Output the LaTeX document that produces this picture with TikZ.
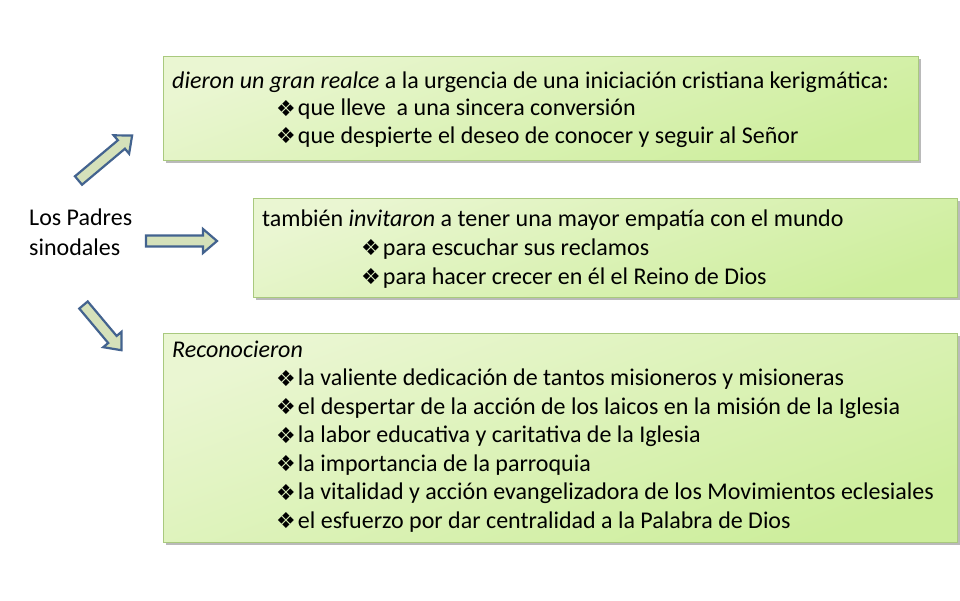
\documentclass[tikz,border=0pt]{standalone}
\usepackage{fontspec}
\setmainfont{Carlito}
\newfontfamily\symfont{DejaVu Sans}
\usetikzlibrary{shadows}
\definecolor{boxborder}{HTML}{A9C97E}
\definecolor{boxtop}{HTML}{EAF6D2}
\definecolor{boxbottom}{HTML}{CDEE9C}
\definecolor{arrowfill}{HTML}{D5E1BA}
\definecolor{arrowdraw}{HTML}{43638F}
\newcommand{\dia}{\raisebox{-0.5pt}{\symfont\fontsize{22}{22}\selectfont ❖}\hspace{2pt}}
\tikzset{
  box/.style={draw=boxborder, line width=0.8pt, top color=boxtop, bottom color=boxbottom,
    shading angle=20, anchor=north west, inner sep=0pt,
    drop shadow={shadow xshift=2.5pt, shadow yshift=-2.5pt, opacity=0.45, fill=black!60}},
  txt/.style={anchor=base west, inner sep=0pt, font=\fontsize{24}{28}\selectfont},
  blockarrow/.pic={
    \path[fill=arrowfill, draw=arrowdraw, line width=2.2pt, line join=miter]
      (0,-5.5) -- (#1-14,-5.5) -- (#1-14,-12) -- (#1,0) -- (#1-14,12) -- (#1-14,5.5) -- (0,5.5) -- cycle;
  }
}
\begin{document}
\begin{tikzpicture}[x=1pt,y=-1pt]
\useasboundingbox[fill=white] (0,0) rectangle (960,600);
% boxes
\node[box, minimum width=755pt, minimum height=104pt] (b1) at (163,56) {};
\node[box, minimum width=704pt, minimum height=99pt] (b2) at (253,198) {};
\node[box, minimum width=794pt, minimum height=209pt] (b3) at (163,333) {};
% left label
\node[txt] (lp1) at (29,225) {Los Padres};
\node[txt] (lp2) at (29,255) {sinodales};
% arrows
\pic[rotate=40] (a1) at (78.5,180.5) {blockarrow=70};
\pic (a2) at (146,241) {blockarrow=71};
\pic[rotate=-50] (a3) at (83.5,305) {blockarrow=59};
% box 1
\node[txt] (t11) at (172,88) {\textit{dieron un gran realce} a la urgencia de una iniciación cristiana kerigmática:};
\node[txt] (t12) at (276,115.5) {\dia que lleve\ \ a una sincera conversión};
\node[txt] (t13) at (276,143) {\dia que despierte el deseo de conocer y seguir al Señor};
% box 2
\node[txt] (t21) at (262,226) {también \textit{invitaron} a tener una mayor empatía con el mundo};
\node[txt] (t22) at (361,255) {\dia para escuchar sus reclamos};
\node[txt] (t23) at (361,284) {\dia para hacer crecer en él el Reino de Dios};
% box 3
\node[txt] (t31) at (172,357) {\textit{Reconocieron}};
\node[txt] (t32) at (276,385.5) {\dia la valiente dedicación de tantos misioneros y misioneras};
\node[txt] (t33) at (276,414) {\dia el despertar de la acción de los laicos en la misión de la Iglesia};
\node[txt] (t34) at (276,442.5) {\dia la labor educativa y caritativa de la Iglesia};
\node[txt] (t35) at (276,471) {\dia la importancia de la parroquia};
\node[txt] (t36) at (276,499.5) {\dia la vitalidad y acción evangelizadora de los Movimientos eclesiales};
\node[txt] (t37) at (276,528) {\dia el esfuerzo por dar centralidad a la Palabra de Dios};
\end{tikzpicture}
\end{document}
